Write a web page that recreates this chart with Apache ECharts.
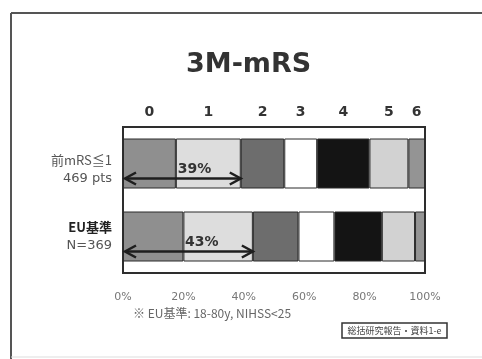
<!DOCTYPE html>
<html>
<head>
<meta charset="utf-8">
<script src="https://cdn.jsdelivr.net/npm/echarts@6/dist/echarts.min.js"></script>
<style>
  html, body { margin: 0; padding: 0; background: #fff; }
  #chart { width: 482px; height: 359px; }
</style>
</head>
<body>
<div id="chart"></div>
<script>
// mRS grades at 3 months, shown as stacked shares (%)
const grades = ['0', '1', '2', '3', '4', '5', '6'];
const rowNames = ['前mRS≦1', 'EU基準'];
const rowCounts = ['469 pts', 'N=369'];
// share of patients per grade, one array per grade: [前mRS≦1, EU基準]
const grade0 = [17.5, 20.0];
const grade1 = [21.5, 23.0];
const grade2 = [14.4, 15.1];
const grade3 = [10.9, 11.9];
const grade4 = [17.3, 15.7];
const grade5 = [12.9, 11.0];
const grade6 = [5.5, 3.3];
// mRS 0-1 totals marked with arrows
const goodOutcome = [39, 43];
const xTicks = [0, 20, 40, 60, 80, 100];

const gradeValues = [grade0, grade1, grade2, grade3, grade4, grade5, grade6];
const gradeColors = ['#8f8f8f', '#dddddd', '#6d6d6d', '#ffffff', '#141414', '#d2d2d2', '#949494'];

const mainFont = 'DejaVu Sans';
const cjkFont = '"Noto Sans CJK JP", "DejaVu Sans"';

const barSeries = grades.map((g, gi) => ({
  name: g,
  type: 'bar',
  stack: 'mrs',
  barWidth: 50,
  itemStyle: { color: gradeColors[gi], borderColor: '#2a2a2a', borderWidth: 1 },
  emphasis: { disabled: true },
  data: gradeValues[gi].map((v, ri) => ri === 0
    ? { value: v, label: { show: true, position: 'top', distance: 19, formatter: '{a}',
        color: '#333', fontSize: 14, fontWeight: 'bold', fontFamily: mainFont } }
    : { value: v })
}));

const arrowSeries = {
  type: 'custom',
  clip: false,
  silent: true,
  z: 10,
  encode: { x: 0, y: 1 },
  data: goodOutcome.map((v, i) => [v, i]),
  renderItem: function (params, api) {
    const v = api.value(0);
    const cat = api.value(1);
    const p0 = api.coord([0, cat]);
    const p1 = api.coord([v, cat]);
    const y = p0[1] + 15;
    const x0 = p0[0] + 2;
    const x1 = p1[0];
    const head = 11, half = 6;
    const st = { stroke: '#1e1e1e', lineWidth: 2.5, fill: null };
    return {
      type: 'group',
      children: [
        { type: 'line', shape: { x1: x0, y1: y, x2: x1, y2: y }, style: st },
        { type: 'polyline', shape: { points: [[x0 + head, y - half], [x0, y], [x0 + head, y + half]] }, style: st },
        { type: 'polyline', shape: { points: [[x1 - head, y - half], [x1, y], [x1 - head, y + half]] }, style: st },
        { type: 'text', style: { text: v + '%', x: x0 + (x1 - x0) * 0.6, y: y - 9,
            align: 'center', verticalAlign: 'middle',
            font: 'bold 14px "DejaVu Sans"', fill: '#333' } }
      ]
    };
  }
};

const chart = echarts.init(document.getElementById('chart'), null, { renderer: 'canvas' });
chart.setOption({
  backgroundColor: '#ffffff',
  animation: false,
  title: {
    text: '3M-mRS',
    left: 181,
    top: 46,
    textStyle: { fontFamily: mainFont, fontWeight: 'bold', fontSize: 27, color: '#333' }
  },
  grid: {
    left: 123, right: 57, top: 127, bottom: 86,
    show: true, borderColor: '#2e2e2e', borderWidth: 2, backgroundColor: 'transparent'
  },
  xAxis: {
    type: 'value',
    min: 0, max: 100, interval: 20,
    axisLine: { show: false },
    axisTick: { show: false },
    splitLine: { show: false },
    axisLabel: {
      margin: 19,
      formatter: v => xTicks.includes(v) ? v + '%' : '',
      color: '#777', fontSize: 11, fontFamily: mainFont
    }
  },
  yAxis: {
    type: 'category',
    inverse: true,
    data: [
      { value: rowNames[0], textStyle: { padding: [12, 0, 0, 0] } },
      { value: rowNames[1] }
    ],
    axisLine: { show: false },
    axisTick: { show: false },
    axisLabel: {
      margin: 11,
      align: 'right',
      formatter: (v, i) => i === 0
        ? '{n|' + rowNames[0] + '}\n{c|' + rowCounts[0] + '}'
        : '{h|' + rowNames[1] + '}\n{c|' + rowCounts[1] + '}',
      rich: {
        n: { fontFamily: cjkFont, fontSize: 13, color: '#555', lineHeight: 18, align: 'right' },
        h: { fontFamily: cjkFont, fontSize: 13, fontWeight: 'bold', color: '#222', lineHeight: 19, align: 'right' },
        c: { fontFamily: mainFont, fontSize: 13, color: '#555', lineHeight: 19, align: 'right' }
      }
    }
  },
  graphic: [
    // slide frame
    { type: 'line', shape: { x1: 11, y1: 13, x2: 482, y2: 13 }, style: { stroke: '#555', lineWidth: 2 }, silent: true },
    { type: 'line', shape: { x1: 11, y1: 13, x2: 11, y2: 359 }, style: { stroke: '#555', lineWidth: 2 }, silent: true },
    { type: 'line', shape: { x1: 11, y1: 357, x2: 482, y2: 357 }, style: { stroke: '#ddd', lineWidth: 1 }, silent: true },
    // footnote
    { type: 'text', x: 133, y: 313, silent: true,
      style: { text: '※ EU基準: 18-80y, NIHSS<25', verticalAlign: 'middle',
        font: '12px "Noto Sans CJK JP"', fill: '#666' } },
    // document reference box
    { type: 'rect', shape: { x: 342, y: 323, width: 105, height: 15 },
      style: { fill: '#fff', stroke: '#333', lineWidth: 1.5 }, silent: true },
    { type: 'text', x: 394.5, y: 330.5, silent: true,
      style: { text: '総括研究報告・資料1-e', align: 'center', verticalAlign: 'middle',
        font: '9px "Noto Sans CJK JP"', fill: '#444' } }
  ],
  series: barSeries.concat([arrowSeries])
});
</script>
</body>
</html>
